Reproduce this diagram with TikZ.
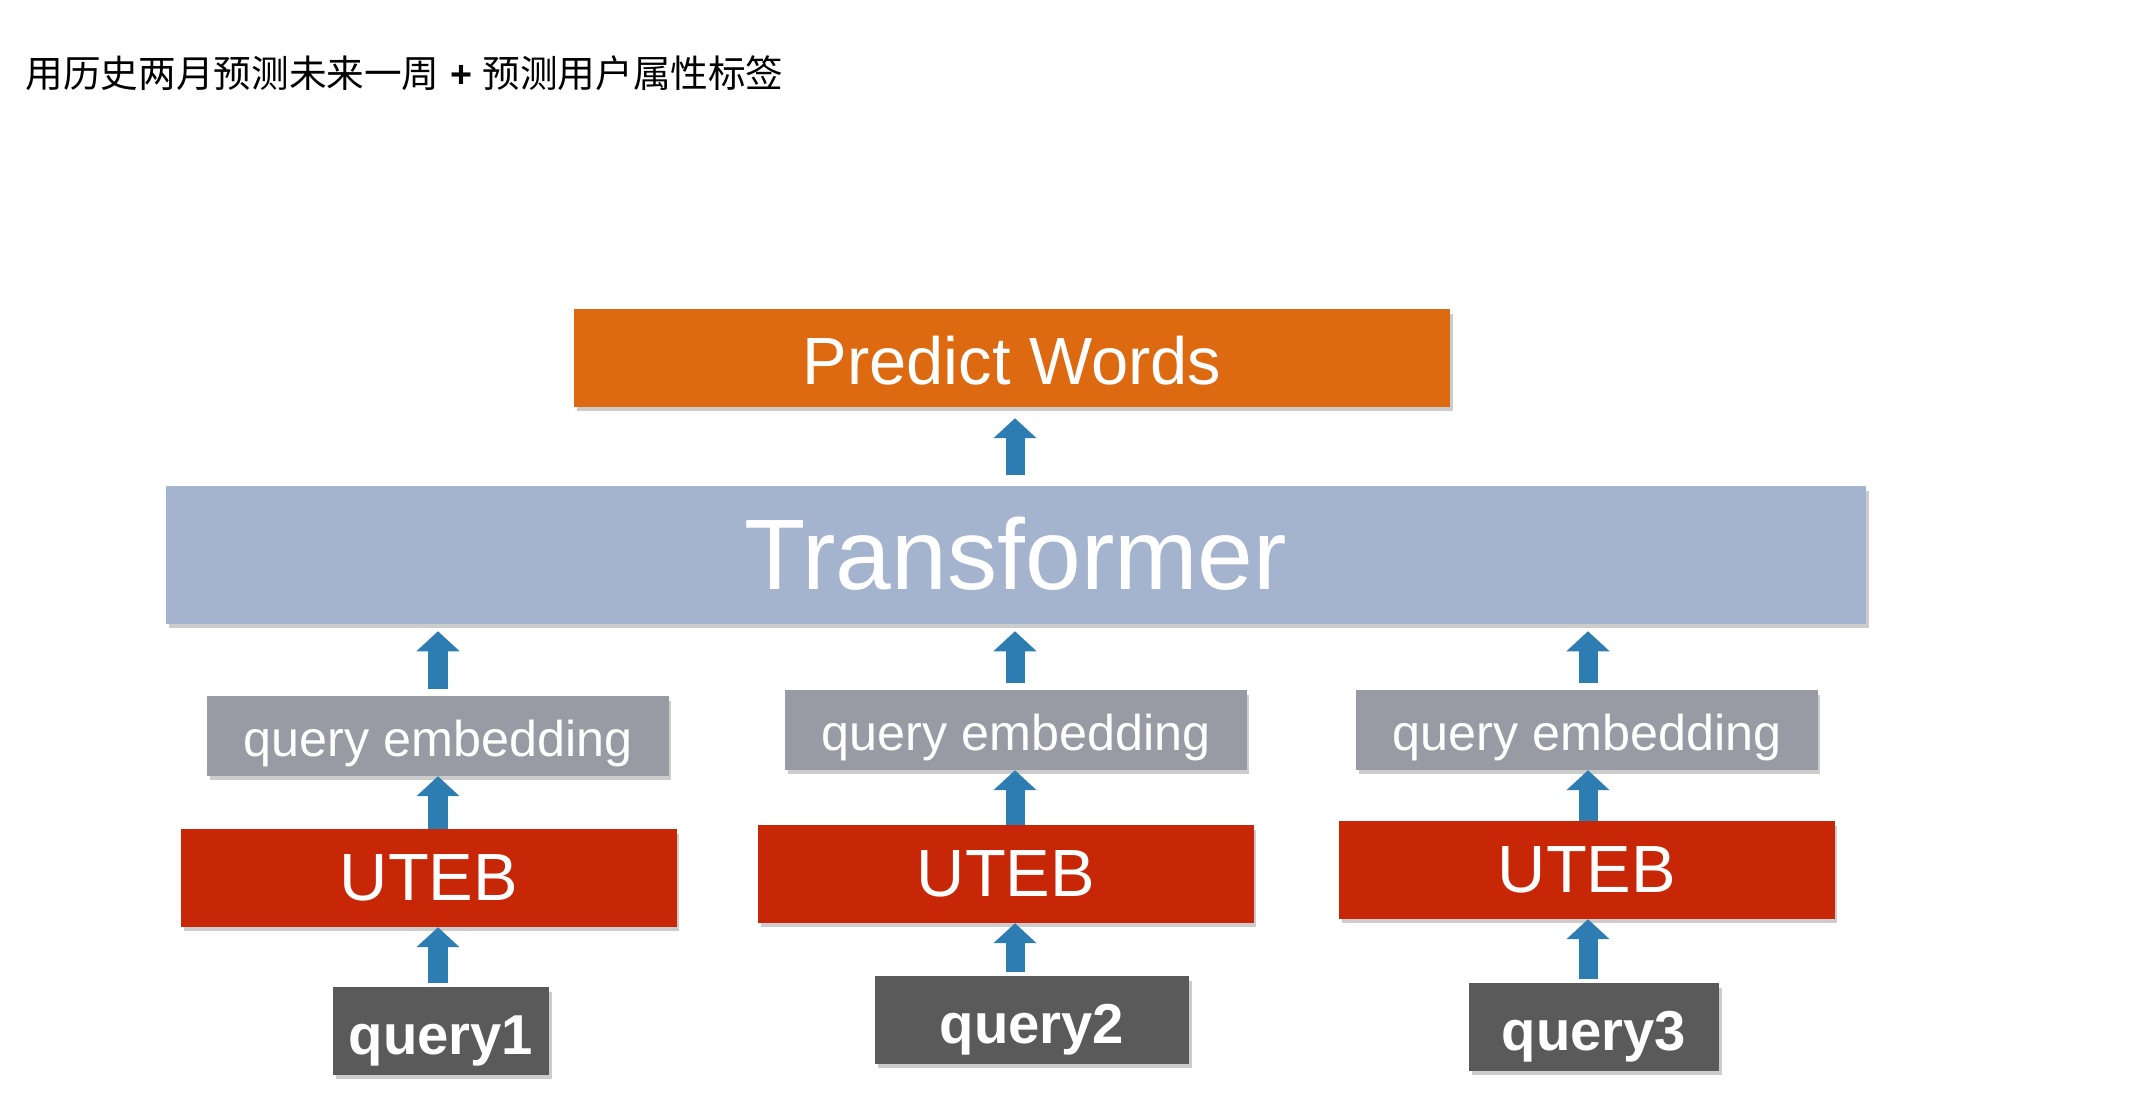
\documentclass[tikz,border=0pt]{standalone}
\usepackage{fontspec}
\setmainfont{Liberation Sans}
\newfontfamily\cjk{Noto Sans CJK SC}
\usepackage{tikz}
\usetikzlibrary{arrows.meta,positioning,shadows}

\definecolor{predorange}{HTML}{DD6A10}
\definecolor{transblue}{HTML}{A5B4CE}
\definecolor{embgray}{HTML}{989BA3}
\definecolor{utebred}{HTML}{C72607}
\definecolor{querygray}{HTML}{5A5A5A}
\definecolor{arrowblue}{HTML}{2D7DB3}

\begin{document}
\begin{tikzpicture}[x=0.01cm,y=-0.01cm,
    box/.style={rectangle, inner sep=0pt, text=white, text depth=0pt,
      drop shadow={shadow xshift=0.8pt, shadow yshift=-1.2pt, opacity=0.4}},
    predbox/.style={box, fill=predorange, minimum width=8.75cm, minimum height=0.97cm,
      text height=15pt, font=\fontsize{19}{22}\selectfont},
    transbox/.style={box, fill=transblue, minimum width=16.99cm, minimum height=1.37cm,
      text height=19.6pt, font=\fontsize{28.5}{32}\selectfont},
    embbox/.style={box, fill=embgray, minimum width=4.61cm, minimum height=0.79cm,
      text height=11.4pt, font=\fontsize{14.3}{17}\selectfont},
    utebbox/.style={box, fill=utebred, minimum width=4.95cm, minimum height=0.97cm,
      text height=12.9pt, font=\fontsize{19}{22}\selectfont},
    querybox/.style={box, fill=querygray, minimum height=0.87cm,
      text height=13.4pt, font=\fontsize{16}{19}\selectfont\bfseries},
    uparrow/.style={draw=arrowblue, line width=0.19cm,
      -{Triangle[width=0.42cm,length=0.2cm]}}]
  \useasboundingbox (0,0) rectangle (2151,1113);

  % Title
  \node[anchor=west, inner sep=0pt, font=\fontsize{10.7}{13}\selectfont] (title) at (25,73)
    {{\cjk 用历史两月预测未来一周} \textbf{+} {\cjk 预测用户属性标签}};

  % Top blocks
  \node[predbox] (pw) at (1012,358) {Predict Words};
  \node[transbox] (tr) at (1016,555) {Transformer};
  \draw[uparrow, shorten <=0.11cm, shorten >=0.11cm]
    (tr.north -| 1015,0) -- (pw.south -| 1015,0);

  % Column 1
  \node[embbox] (emb1) at (438,736) {query embedding};
  \node[utebbox] (uteb1) at (429,878) {UTEB};
  \node[querybox, minimum width=2.16cm] (q1) at (441,1031) {query1};

  % Column 2
  \node[embbox] (emb2) at (1016,730) {query embedding};
  \node[utebbox] (uteb2) at (1006,874) {UTEB};
  \node[querybox, minimum width=3.14cm] (q2) at (1032,1020) {query2};

  % Column 3
  \node[embbox] (emb3) at (1587,730) {query embedding};
  \node[utebbox] (uteb3) at (1587,870) {UTEB};
  \node[querybox, minimum width=2.5cm] (q3) at (1594,1027) {query3};

  % Arrows
  \foreach \col/\ax in {1/438, 2/1015, 3/1588} {
    \draw[uparrow, shorten <=0.07cm, shorten >=0.07cm]
      (emb\col.north -| \ax,0) -- (tr.south -| \ax,0);
    \draw[uparrow] (uteb\col.north -| \ax,0) -- (emb\col.south -| \ax,0);
    \draw[uparrow, shorten <=0.04cm] (q\col.north -| \ax,0) -- (uteb\col.south -| \ax,0);
  }
\end{tikzpicture}
\end{document}
